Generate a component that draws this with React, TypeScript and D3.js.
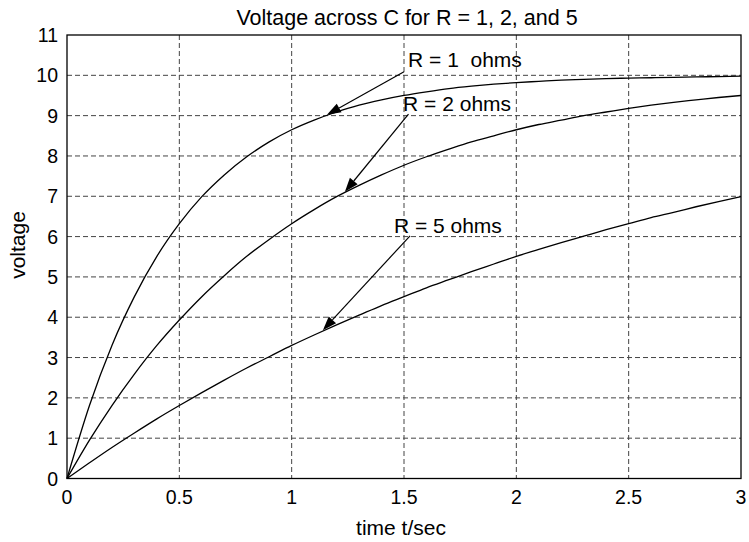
import * as React from 'react';
import * as d3 from 'd3';

const timeSec = [0, 0.1, 0.2, 0.3, 0.4, 0.5, 0.6, 0.7, 0.8, 0.9, 1.0, 1.1, 1.2, 1.3, 1.4, 1.5,
    1.6, 1.7, 1.8, 1.9, 2.0, 2.1, 2.2, 2.3, 2.4, 2.5, 2.6, 2.7, 2.8, 2.9, 3.0];
const voltR1 = [0, 1.81, 3.30, 4.51, 5.51, 6.32, 6.99, 7.53, 7.98, 8.35, 8.65, 8.89, 9.09, 9.26, 9.39, 9.50,
    9.59, 9.67, 9.73, 9.78, 9.82, 9.85, 9.88, 9.90, 9.92, 9.93, 9.94, 9.95, 9.96, 9.97, 9.98];
const voltR2 = [0, 0.95, 1.81, 2.59, 3.30, 3.93, 4.51, 5.03, 5.51, 5.93, 6.32, 6.67, 6.99, 7.27, 7.53, 7.77,
    7.98, 8.17, 8.35, 8.50, 8.65, 8.78, 8.89, 9.00, 9.09, 9.18, 9.26, 9.33, 9.39, 9.45, 9.50];
const voltR5 = [0, 0.39, 0.77, 1.13, 1.48, 1.81, 2.13, 2.44, 2.74, 3.02, 3.30, 3.56, 3.81, 4.05, 4.29, 4.51,
    4.73, 4.93, 5.13, 5.32, 5.51, 5.68, 5.85, 6.01, 6.17, 6.32, 6.47, 6.60, 6.74, 6.87, 6.99];

const xTicks = [0, 0.5, 1, 1.5, 2, 2.5, 3];
const yTicks = [0, 1, 2, 3, 4, 5, 6, 7, 8, 9, 10, 11];

// annotation labels: text anchor, arrow tail, arrow tip (data coords)
const labelText = ['R = 1\u00a0\u00a0ohms', 'R = 2 ohms', 'R = 5 ohms'];
const labelPos = [[1.518, 10.21], [1.496, 9.11], [1.455, 6.1]];
const arrowTail = [[1.500, 10.09], [1.52, 9.04], [1.527, 6.02]];
const arrowTip = [[1.157, 9.02], [1.237, 7.11], [1.139, 3.68]];

const W = 749;
const H = 542;
const plot = { left: 67, right: 741, top: 35, bottom: 478.5 };
const font = '"Liberation Sans", Arial, Helvetica, sans-serif';

export default function App() {
    const xScale = d3.scaleLinear().domain([0, 3]).range([plot.left, plot.right]);
    const yScale = d3.scaleLinear().domain([0, 11]).range([plot.bottom, plot.top]);

    const line = d3.line<number>()
        .curve(d3.curveMonotoneX)
        .x((_, i) => xScale(timeSec[i]))
        .y(d => yScale(d));

    const series = [voltR1, voltR2, voltR5];

    const arrowHead = (i: number) => {
        const [x0, y0] = [xScale(arrowTail[i][0]), yScale(arrowTail[i][1])];
        const [x1, y1] = [xScale(arrowTip[i][0]), yScale(arrowTip[i][1])];
        const ang = Math.atan2(y1 - y0, x1 - x0);
        const len = 14, half = 5;
        const bx = x1 - len * Math.cos(ang), by = y1 - len * Math.sin(ang);
        const px = -Math.sin(ang) * half, py = Math.cos(ang) * half;
        return {
            shaft: `M${x0},${y0}L${bx},${by}`,
            head: `M${x1},${y1}L${bx + px},${by + py}L${bx - px},${by - py}Z`
        };
    };

    return (
        <svg width={W} height={H} style={{ position: 'absolute', left: 0, top: 0, background: '#fff' }}
            fontFamily={font}>
            <rect x={0} y={0} width={W} height={H} fill="#fff" />
            {/* grid */}
            <g stroke="#444" strokeWidth={1} strokeDasharray="5,3">
                {xTicks.slice(1, -1).map(t =>
                    <line key={'gx' + t} x1={xScale(t)} x2={xScale(t)} y1={plot.top} y2={plot.bottom} />)}
                {yTicks.slice(1, -1).map(t =>
                    <line key={'gy' + t} x1={plot.left} x2={plot.right} y1={yScale(t)} y2={yScale(t)} />)}
            </g>
            {/* curves */}
            <g fill="none" stroke="#000" strokeWidth={1.3}>
                {series.map((s, i) => <path key={i} d={line(s) || ''} />)}
            </g>
            {/* frame */}
            <rect x={plot.left} y={plot.top} width={plot.right - plot.left} height={plot.bottom - plot.top}
                fill="none" stroke="#000" strokeWidth={1.3} />
            {/* tick labels */}
            <g fontSize={19.5} fill="#000">
                {xTicks.map(t =>
                    <text key={'tx' + t} x={xScale(t)} y={504} textAnchor="middle">{String(t)}</text>)}
                {yTicks.map(t =>
                    <text key={'ty' + t} x={58} y={yScale(t) + 7} textAnchor="end">{String(t)}</text>)}
            </g>
            {/* annotations */}
            {labelText.map((txt, i) => {
                const a = arrowHead(i);
                return <g key={'a' + i}>
                    <path d={a.shaft} stroke="#000" strokeWidth={1.2} fill="none" />
                    <path d={a.head} fill="#000" />
                    <text x={xScale(labelPos[i][0])} y={yScale(labelPos[i][1])} fontSize={21}
                        style={{ whiteSpace: 'pre' }}>{txt}</text>
                </g>;
            })}
            <text x={407} y={25} textAnchor="middle" fontSize={21.5}>
                Voltage across C for R = 1, 2, and 5</text>
            <text x={401} y={535} textAnchor="middle" fontSize={21}>time t/sec</text>
            <text transform={`translate(25,245) rotate(-90)`} textAnchor="middle"
                fontSize={21}>voltage</text>
        </svg>
    );
}
